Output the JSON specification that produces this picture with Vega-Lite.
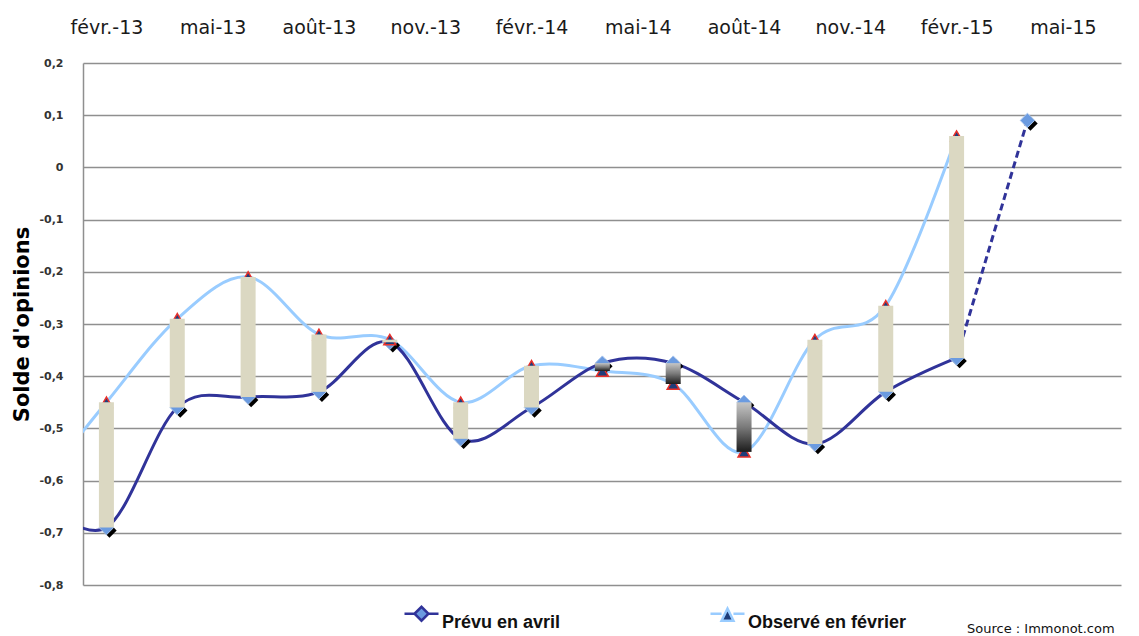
{
  "$schema": "https://vega.github.io/schema/vega-lite/v6.json",
  "width": 1038,
  "height": 522,
  "autosize": {"type": "none"},
  "padding": {"left": 83, "top": 63, "right": 18, "bottom": 51},
  "background": "white",
  "config": {"view": {"stroke": null}, "font": "DejaVu Sans"},
  "title": {
    "text": "Source : Immonot.com",
    "orient": "bottom",
    "anchor": "start",
    "frame": "group",
    "dx": 884,
    "offset": -9,
    "baseline": "top",
    "font": "DejaVu Sans",
    "fontSize": 13,
    "fontWeight": "normal",
    "color": "#111111"
  },
  "data": {
    "values": [
      {"mois": "déc.-12", "m": -1, "prevu": -0.63, "observe": -0.62},
      {"mois": "févr.-13", "m": 1, "prevu": -0.69, "observe": -0.45},
      {"mois": "avr.-13", "m": 3, "prevu": -0.46, "observe": -0.29},
      {"mois": "juin-13", "m": 5, "prevu": -0.44, "observe": -0.21},
      {"mois": "août-13", "m": 7, "prevu": -0.43, "observe": -0.32},
      {"mois": "oct.-13", "m": 9, "prevu": -0.335, "observe": -0.33},
      {"mois": "déc.-13", "m": 11, "prevu": -0.52, "observe": -0.45},
      {"mois": "févr.-14", "m": 13, "prevu": -0.46, "observe": -0.38},
      {"mois": "avr.-14", "m": 15, "prevu": -0.375, "observe": -0.39},
      {"mois": "juin-14", "m": 17, "prevu": -0.375, "observe": -0.415},
      {"mois": "août-14", "m": 19, "prevu": -0.45, "observe": -0.545},
      {"mois": "oct.-14", "m": 21, "prevu": -0.53, "observe": -0.33},
      {"mois": "déc.-14", "m": 23, "prevu": -0.43, "observe": -0.265},
      {"mois": "févr.-15", "m": 25, "prevu": -0.365, "observe": 0.06},
      {"mois": "avr.-15", "m": 27, "prevu": 0.09, "observe": null}
    ]
  },
  "encoding": {
    "x": {
      "field": "m",
      "type": "quantitative",
      "scale": {"domain": [0.48, 29.5], "nice": false, "zero": false},
      "axis": {
        "orient": "top",
        "values": [1, 4, 7, 10, 13, 16, 19, 22, 25, 28],
        "labelExpr": "['févr.-13','mai-13','août-13','nov.-13','févr.-14','mai-14','août-14','nov.-14','févr.-15','mai-15'][(datum.value - 1) / 3]",
        "title": null,
        "domain": false,
        "ticks": false,
        "tickSize": 0,
        "grid": false,
        "labelFont": "DejaVu Sans",
        "labelFontSize": 19,
        "labelColor": "#1a1a1a",
        "labelPadding": 26,
        "labelOverlap": false,
        "labelBound": false
      }
    }
  },
  "layer": [
    {
      "transform": [{"filter": "datum.observe != null"}],
      "mark": {"type": "line", "interpolate": "cardinal", "strokeWidth": 3, "clip": true},
      "encoding": {
        "y": {
          "field": "observe",
          "type": "quantitative",
          "scale": {"domain": [-0.8, 0.2], "nice": false, "zero": false},
          "axis": {
            "values": [-0.8, -0.7, -0.6, -0.5, -0.4, -0.3, -0.2, -0.1, 0, 0.1, 0.2],
            "labelExpr": "replace(toString(datum.value), '.', ',')",
            "title": "Solde d'opinions",
            "titleFont": "DejaVu Sans",
            "titleFontSize": 21,
            "titleFontWeight": "bold",
            "titleColor": "#000000",
            "titleX": -61,
            "titleY": 261,
            "titleAlign": "center",
            "titleBaseline": "middle",
            "labelFont": "DejaVu Sans",
            "labelFontSize": 11,
            "labelFontWeight": "bold",
            "labelColor": "#333333",
            "labelPadding": 20,
            "ticks": false,
            "domain": true,
            "domainColor": "#8f8f8f",
            "domainWidth": 1.5,
            "grid": true,
            "gridColor": "#8f8f8f",
            "gridWidth": 1.5,
            "labelOverlap": false
          }
        },
        "color": {
          "datum": "Observé en février",
          "type": "nominal",
          "scale": {"domain": ["Prévu en avril", "Observé en février"], "range": ["#303399", "#99ccff"]},
          "legend": {
            "title": null,
            "orient": "none",
            "legendX": 320,
            "legendY": 532,
            "direction": "horizontal",
            "symbolSize": 1156,
            "symbolStrokeWidth": 2.5,
            "labelFont": "Liberation Sans",
            "labelFontSize": 18,
            "labelFontWeight": "bold",
            "labelColor": "#111111",
            "labelBaseline": "top",
            "labelOffset": 2,
            "columnPadding": 144,
            "labelLimit": 400
          }
        }
      }
    },
    {
      "transform": [{"filter": "datum.m <= 25"}],
      "mark": {"type": "line", "interpolate": "cardinal", "strokeWidth": 3, "clip": true},
      "encoding": {
        "y": {"field": "prevu", "type": "quantitative"},
        "color": {"datum": "Prévu en avril", "type": "nominal"}
      }
    },
    {
      "transform": [{"filter": "datum.m >= 25"}],
      "mark": {"type": "line", "strokeWidth": 3, "strokeDash": [7, 4], "color": "#303399", "clip": true},
      "encoding": {
        "y": {"field": "prevu", "type": "quantitative"}
      }
    },
    {
      "transform": [{"filter": "datum.m >= 1"}],
      "mark": {"type": "point", "shape": "diamond", "filled": true, "size": 210, "color": "#000000", "opacity": 1, "xOffset": 3, "yOffset": 3},
      "encoding": {
        "y": {"field": "prevu", "type": "quantitative"}
      }
    },
    {
      "transform": [{"filter": "datum.m >= 1"}],
      "mark": {"type": "point", "shape": "diamond", "filled": true, "size": 210, "fill": "#6b9be0", "stroke": "#a9c6ee", "strokeWidth": 1, "opacity": 1},
      "encoding": {
        "y": {"field": "prevu", "type": "quantitative"}
      }
    },
    {
      "transform": [{"filter": "datum.m >= 1 && datum.observe != null"}],
      "mark": {"type": "point", "shape": "triangle-up", "filled": true, "size": 144, "fill": "#1f3d7a", "stroke": "#e8302a", "strokeWidth": 1.5, "opacity": 1},
      "encoding": {
        "y": {"field": "observe", "type": "quantitative"}
      }
    },
    {
      "transform": [{"filter": "false"}],
      "mark": {"type": "point", "filled": true, "opacity": 1, "size": 1156},
      "encoding": {
        "y": {"field": "prevu", "type": "quantitative"},
        "fill": {
          "datum": "Prévu en avril",
          "type": "nominal",
          "scale": {"domain": ["Prévu en avril", "Observé en février"], "range": ["#6b9be0", "#1f3d7a"]}
        },
        "shape": {
          "datum": "Prévu en avril",
          "type": "nominal",
          "scale": {"domain": ["Prévu en avril", "Observé en février"], "range": ["M-1,0H-0.41M0.41,0H1M-0.41,0L0,-0.41L0.41,0L0,0.41Z", "M-1,0H-0.35M0.35,0H1M-0.35,0.41L0,-0.3L0.35,0.41Z"]}
        }
      }
    },
    {
      "transform": [{"filter": "datum.m >= 1 && datum.observe != null && datum.observe >= datum.prevu"}],
      "mark": {"type": "bar", "orient": "vertical", "width": 15, "color": "#dbd8c2"},
      "encoding": {
        "y": {"field": "prevu", "type": "quantitative"},
        "y2": {"field": "observe"}
      }
    },
    {
      "transform": [{"filter": "datum.m >= 1 && datum.observe != null && datum.observe < datum.prevu"}],
      "mark": {
        "type": "bar",
        "orient": "vertical",
        "width": 15,
        "color": {
          "gradient": "linear",
          "x1": 0, "y1": 0, "x2": 0, "y2": 1,
          "stops": [{"offset": 0, "color": "#c6c6c6"}, {"offset": 0.5, "color": "#7a7a7a"}, {"offset": 1, "color": "#1c1c1c"}]
        }
      },
      "encoding": {
        "y": {"field": "prevu", "type": "quantitative"},
        "y2": {"field": "observe"}
      }
    }
  ]
}
